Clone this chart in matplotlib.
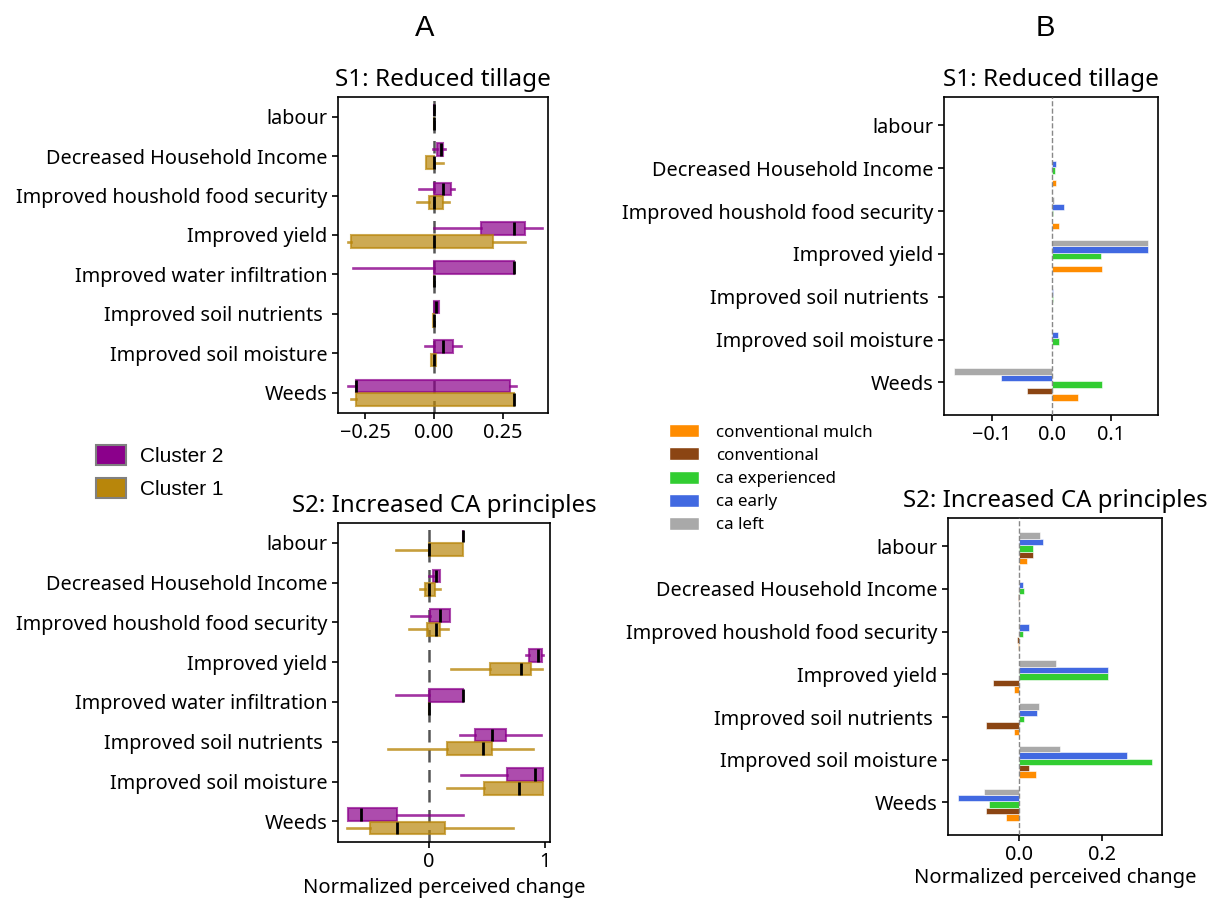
import matplotlib
matplotlib.use("Agg")
import matplotlib.pyplot as plt
from matplotlib.patches import Patch

plt.rcParams['font.family'] = ['Noto Sans', 'DejaVu Sans']

# ---------------- data ----------------
cats_a = ["labour", "Decreased Household Income", "Improved houshold food security",
          "Improved yield", "Improved water infiltration", "Improved soil nutrients ",
          "Improved soil moisture", "Weeds"]
cats_b = ["labour", "Decreased Household Income", "Improved houshold food security",
          "Improved yield", "Improved soil nutrients ", "Improved soil moisture", "Weeds"]

# Panel A, S1 (box stats per category, labour -> Weeds)
c2_s1_whislo = [0, -0.002, -0.053, 0.0, -0.294, 0.0, -0.033, -0.312]
c2_s1_q1 = [0, 0.012, 0.0, 0.17, 0.0, 0.0, 0.0, -0.282]
c2_s1_med = [0, 0.025, 0.032, 0.29, 0.29, 0.007, 0.032, -0.282]
c2_s1_q3 = [0, 0.034, 0.06, 0.328, 0.29, 0.017, 0.068, 0.277]
c2_s1_whishi = [0, 0.04, 0.073, 0.39, 0.29, 0.017, 0.097, 0.297]

c1_s1_whislo = [0, -0.029, -0.06, -0.312, 0, -0.005, -0.012, -0.302]
c1_s1_q1 = [0, -0.029, -0.02, -0.3, 0, -0.005, -0.012, -0.282]
c1_s1_med = [0, 0, 0, 0, 0, 0, 0, 0.29]
c1_s1_q3 = [0, 0, 0.032, 0.214, 0, 0, 0.007, 0.29]
c1_s1_whishi = [0, 0.034, 0.056, 0.328, 0, 0, 0.007, 0.29]

# Panel A, S2
c2_s2_whislo = [0.294, 0, -0.153, 0.833, -0.282, 0.265, 0.274, -0.695]
c2_s2_q1 = [0.294, 0.035, 0.006, 0.862, 0, 0.395, 0.669, -0.695]
c2_s2_med = [0.294, 0.058, 0.092, 0.934, 0.294, 0.545, 0.908, -0.585]
c2_s2_q3 = [0.294, 0.092, 0.179, 0.97, 0.294, 0.66, 0.977, -0.274]
c2_s2_whishi = [0.294, 0.092, 0.179, 0.977, 0.294, 0.963, 0.977, 0.294]

c1_s2_whislo = [-0.282, -0.08, -0.167, 0.187, 0, -0.354, 0.156, -0.7]
c1_s2_q1 = [0, -0.032, -0.017, 0.524, 0, 0.156, 0.476, -0.507]
c1_s2_med = [0, 0, 0.058, 0.79, 0, 0.467, 0.778, -0.277]
c1_s2_q3 = [0.294, 0.055, 0.092, 0.876, 0, 0.545, 0.977, 0.141]
c1_s2_whishi = [0.294, 0.092, 0.164, 0.97, 0, 0.89, 0.977, 0.72]

# Panel B groups (labour -> Weeds)
groups = ["conventional mulch", "conventional", "ca experienced", "ca early", "ca left"]
s1_conv_mulch = [0, 0.007, 0.012, 0.085, 0, 0, 0.044]
s1_conv = [0, 0, 0, 0, 0, 0, -0.042]
s1_ca_exp = [0, 0.005, 0.003, 0.082, 0.002, 0.013, 0.085]
s1_ca_early = [0, 0.007, 0.02, 0.162, 0.003, 0.01, -0.085]
s1_ca_left = [0, 0, 0.004, 0.162, 0, 0, -0.164]

s2_conv_mulch = [0.02, 0, -0.002, -0.013, -0.013, 0.041, -0.033]
s2_conv = [0.033, -0.002, -0.006, -0.064, -0.081, 0.023, -0.081]
s2_ca_exp = [0.033, 0.013, 0.01, 0.215, 0.013, 0.323, -0.073]
s2_ca_early = [0.057, 0.01, 0.024, 0.215, 0.044, 0.262, -0.149]
s2_ca_left = [0.05, 0, 0.002, 0.09, 0.047, 0.1, -0.085]

# ---------------- styles ----------------
purple = "#8B008B"
gold = "#B8860B"
bar_colors = ["#FF8C00", "#8B4513", "#32CD32", "#4169E1", "#A9A9A9"]

fig = plt.figure(figsize=(12.19, 8.99), dpi=100)

W, H = 1219, 899
def axes_px(l, t, r, b):
    return fig.add_axes([l / W, 1 - b / H, (r - l) / W, (b - t) / H])

ax_a1 = axes_px(338, 97, 548, 413)
ax_a2 = axes_px(338, 523, 550, 842)
ax_b1 = axes_px(944, 97, 1158, 415)
ax_b2 = axes_px(948, 518, 1162, 835)

tick_fs = 14.3


def make_stats(wl, q1, med, q3, wh):
    return [dict(whislo=a, q1=b, med=c, q3=d, whishi=e, fliers=[])
            for a, b, c, d, e in zip(wl, q1, med, q3, wh)]


def draw_box(ax, stats, positions, color):
    ax.bxp(stats, positions=positions, vert=False, widths=0.32, patch_artist=True,
           showcaps=False, showfliers=False,
           boxprops=dict(facecolor=color, edgecolor=color, alpha=0.7, linewidth=1.5),
           whiskerprops=dict(color=color, alpha=0.8, linewidth=1.9),
           medianprops=dict(color="black", linewidth=2.0),
           manage_ticks=False)


def panel_a(ax, c2, c1, title, title_fs, xlim, xticks, xticklabels):
    n = len(cats_a)
    pos = [n - 1 - i for i in range(n)]
    ax.axvline(0, color="#555555", linestyle="--", linewidth=1.8, dashes=(5, 3), zorder=0)
    draw_box(ax, make_stats(*c2), [p + 0.17 for p in pos], purple)
    draw_box(ax, make_stats(*c1), [p - 0.17 for p in pos], gold)
    ax.set_yticks(pos)
    ax.set_yticklabels(cats_a, fontsize=tick_fs)
    ax.set_ylim(-0.52, n - 0.5)
    ax.set_xlim(*xlim)
    ax.set_xticks(xticks)
    ax.set_xticklabels(xticklabels, fontsize=tick_fs)
    ax.set_title(title, fontsize=title_fs, pad=8)


panel_a(ax_a1,
        (c2_s1_whislo, c2_s1_q1, c2_s1_med, c2_s1_q3, c2_s1_whishi),
        (c1_s1_whislo, c1_s1_q1, c1_s1_med, c1_s1_q3, c1_s1_whishi),
        "S1: Reduced tillage", 17.5, (-0.348, 0.413), [-0.25, 0, 0.25],
        ["\u22120.25", "0.00", "0.25"])
panel_a(ax_a2,
        (c2_s2_whislo, c2_s2_q1, c2_s2_med, c2_s2_q3, c2_s2_whishi),
        (c1_s2_whislo, c1_s2_q1, c1_s2_med, c1_s2_q3, c1_s2_whishi),
        "S2: Increased CA principles", 17.3, (-0.78, 1.04), [0, 1], ["0", "1"])
ax_a2.set_xlabel("Normalized perceived change", fontsize=14.5)


def panel_b(ax, series, title, title_fs, xticks, xticklabels):
    n = len(cats_b)
    pos = [n - 1 - i for i in range(n)]
    ax.axvline(0, color="#888888", linestyle="--", linewidth=1.0, zorder=3)
    h = 0.15
    for k, (vals, col, lab) in enumerate(zip(series, bar_colors, groups)):
        ax.barh([p - 0.35 + k * h for p in pos], vals, height=h, color=col,
                edgecolor="white", linewidth=0.4, label=lab)
    ax.set_yticks(pos)
    ax.set_yticklabels(cats_b, fontsize=tick_fs)
    ax.set_xticks(xticks)
    ax.set_xticklabels(xticklabels, fontsize=tick_fs)
    ax.set_title(title, fontsize=title_fs, pad=8)


panel_b(ax_b1, [s1_conv_mulch, s1_conv, s1_ca_exp, s1_ca_early, s1_ca_left],
        "S1: Reduced tillage", 17.5, [-0.1, 0.0, 0.1], ["\u22120.1", "0.0", "0.1"])
panel_b(ax_b2, [s2_conv_mulch, s2_conv, s2_ca_exp, s2_ca_early, s2_ca_left],
        "S2: Increased CA principles", 17.3, [0.0, 0.2], ["0.0", "0.2"])
ax_b2.set_xlabel("Normalized perceived change", fontsize=14.5, labelpad=2)

for ax in (ax_a1, ax_a2, ax_b1, ax_b2):
    for s in ax.spines.values():
        s.set_linewidth(1.2)
    ax.tick_params(width=1.2, length=4)

# legends
leg_a = [Patch(facecolor=purple, edgecolor="gray", linewidth=1.5, label="Cluster 2"),
         Patch(facecolor=gold, edgecolor="gray", linewidth=1.5, label="Cluster 1")]
fig.legend(handles=leg_a, loc="upper left", bbox_to_anchor=(77 / W, 1 - 426 / H),
           frameon=False, prop=dict(family="Liberation Sans", size=15),
           handlelength=1.45, handleheight=1.15, labelspacing=0.56, handletextpad=0.65)

leg_b_handles = [Patch(facecolor=c, edgecolor="white", label=g) for c, g in zip(bar_colors, groups)]
fig.legend(handles=leg_b_handles, loc="upper left", bbox_to_anchor=(654 / W, 1 - 409 / H),
           frameon=False, fontsize=12.2, handlelength=1.77, handleheight=0.8,
           labelspacing=0.4, handletextpad=1.0)

fig.text(425 / W, 1 - 28 / H, "A", fontsize=21, ha="center", va="center", family="Liberation Sans")
fig.text(1045 / W, 1 - 28 / H, "B", fontsize=21, ha="center", va="center", family="Liberation Sans")

fig.savefig("out.png", dpi=100)
